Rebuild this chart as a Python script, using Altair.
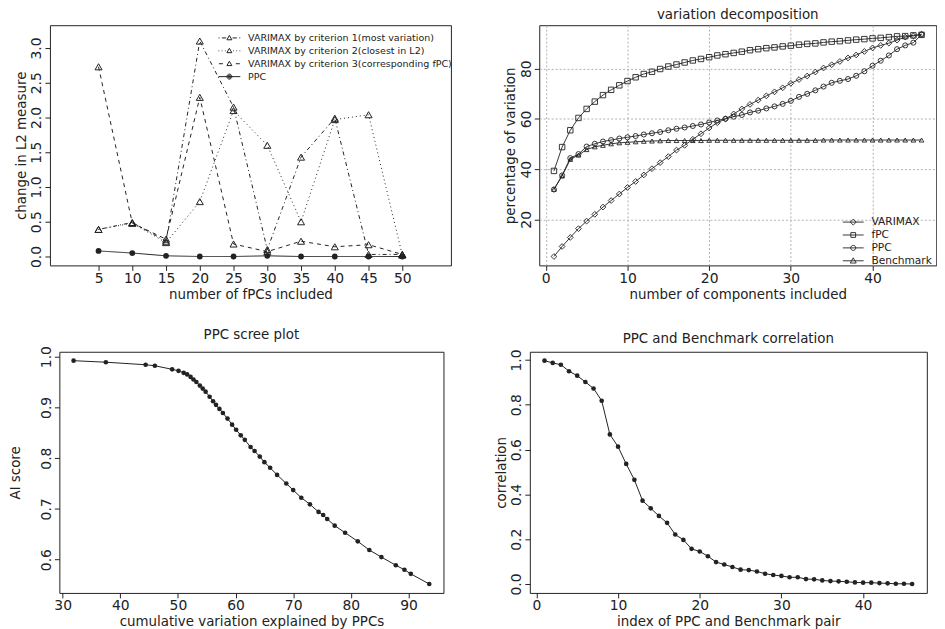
import altair as alt
import pandas as pd

FONT = "DejaVu Sans"
INK = "#222222"

# ---------------- panel 1: change in L2 measure ----------------
n_fpcs = [5, 10, 15, 20, 25, 30, 35, 40, 45, 50]
crit1 = [0.39, 0.49, 0.22, 3.10, 2.15, 0.10, 1.43, 1.99, 0.03, 0.03]
crit2 = [0.39, 0.48, 0.20, 0.79, 2.10, 1.60, 0.50, 1.97, 2.04, 0.02]
crit3 = [2.73, 0.48, 0.25, 2.29, 0.18, 0.07, 0.22, 0.14, 0.17, 0.03]
ppc_l2 = [0.08, 0.05, 0.01, 0.00, 0.00, 0.01, 0.00, 0.00, 0.00, 0.00]
p1_names = ["VARIMAX by criterion 1(most variation)",
            "VARIMAX by criterion 2(closest in L2)",
            "VARIMAX by criterion 3(corresponding fPC)",
            "PPC"]
p1_dash = [[1, 3, 4, 3], [1, 3], [4, 4], [1, 0]]
p1_legend_paths = [
    "M-4.4,0H-4.0M-3.0,0H-1.3M1.3,0H3.0M4.0,0H4.4M0,-1L1,0.75L-1,0.75Z",
    "M-4.4,0H-4.1M-3.1,0H-2.8M-1.8,0H-1.5M1.5,0H1.8M2.8,0H3.1M4.1,0H4.4M0,-1L1,0.75L-1,0.75Z",
    "M-4.2,0H-2.6M2.6,0H4.2M0,-1L1,0.75L-1,0.75Z",
    "M-4.4,0H4.4M1,0A1,1,0,1,1,-1,0A1,1,0,1,1,1,0Z"
    "M0.6,0A0.6,0.6,0,1,1,-0.6,0A0.6,0.6,0,1,1,0.6,0Z"
    "M0.25,0A0.25,0.25,0,1,1,-0.25,0A0.25,0.25,0,1,1,0.25,0Z",
]
p1_xlim = [0, 55]
p1_ylim = [0, 3.2]
p1_xticks = [5, 10, 15, 20, 25, 30, 35, 40, 45, 50]
p1_yticks = [0.0, 0.5, 1.0, 1.5, 2.0, 2.5, 3.0]

# ---------------- panel 2: variation decomposition ----------------
components = list(range(1, 47))
varimax = [5.2, 9.2, 12.8, 16.3, 19.3, 22.0, 24.9, 27.5, 30.1, 32.7,
           35.1, 37.7, 40.2, 42.6, 45.0, 47.6, 49.5, 51.9, 54.1, 56.4,
           58.5, 60.0, 62.0, 64.0, 65.8, 67.5, 69.2, 70.8, 72.4, 74.2,
           75.7, 77.1, 78.7, 80.3, 81.6, 82.9, 84.3, 85.5, 86.9, 88.3,
           89.3, 90.2, 91.4, 92.6, 93.1, 93.8]
fpc = [39.3, 48.8, 55.5, 60.4, 64.0, 66.9, 69.5, 71.6, 73.4, 75.1,
       76.6, 77.9, 78.8, 79.9, 80.9, 81.7, 82.5, 83.3, 83.9, 84.6,
       85.3, 85.8, 86.3, 86.8, 87.4, 87.8, 88.2, 88.5, 88.9, 89.2,
       89.6, 89.9, 90.1, 90.5, 90.8, 91.0, 91.3, 91.6, 91.8, 92.1,
       92.3, 92.6, 92.9, 93.0, 93.3, 93.5]
ppc_cum = [31.9, 37.5, 44.4, 46.0, 49.0, 50.1, 51.0, 51.6, 52.2, 52.7,
           53.2, 53.8, 54.3, 54.8, 55.5, 56.1, 56.6, 57.2, 57.8, 58.6,
           59.4, 60.1, 60.9, 61.6, 62.6, 63.3, 64.2, 65.0, 66.0, 67.2,
           68.8, 70.0, 71.4, 72.9, 74.4, 75.2, 75.9, 77.2, 79.0, 81.2,
           83.2, 85.3, 87.8, 89.3, 90.4, 93.6]
benchmark = [32.0, 37.3, 43.9, 45.6, 47.8, 48.9, 49.5, 50.1, 50.5, 50.7,
             50.9, 51.1, 51.2, 51.3, 51.4, 51.4, 51.4, 51.4, 51.4, 51.5,
             51.5, 51.5, 51.5, 51.5, 51.5, 51.5, 51.5, 51.5, 51.5, 51.5,
             51.5, 51.5, 51.5, 51.6, 51.6, 51.6, 51.6, 51.6, 51.6, 51.6,
             51.6, 51.6, 51.6, 51.6, 51.6, 51.6]
p2_names = ["VARIMAX", "fPC", "PPC", "Benchmark"]
p2_shapes = ["diamond", "square", "circle", "triangle-up"]
p2_sizes = [34, 22, 24, 34]
p2_legend_paths = [
    "M-3.5,0H3.5M0,-1L1,0L0,1L-1,0Z",
    "M-3.5,0H3.5M-0.8,-0.8H0.8V0.8H-0.8Z",
    "M-3.5,0H3.5M0.85,0A0.85,0.85,0,1,1,-0.85,0A0.85,0.85,0,1,1,0.85,0Z",
    "M-3.5,0H3.5M0,-1L1,0.75L-1,0.75Z",
]
p2_xticks = [0, 10, 20, 30, 40]
p2_yticks = [20, 40, 60, 80]

# ---------------- panel 3: PPC scree plot ----------------
ai_score = [0.992, 0.989, 0.984, 0.982, 0.975, 0.972, 0.968, 0.965, 0.960, 0.955,
            0.950, 0.943, 0.937, 0.931, 0.921, 0.912, 0.905, 0.897, 0.889, 0.878,
            0.866, 0.856, 0.845, 0.836, 0.822, 0.814, 0.803, 0.792, 0.781, 0.767,
            0.750, 0.737, 0.722, 0.709, 0.694, 0.688, 0.680, 0.667, 0.653, 0.636,
            0.619, 0.605, 0.589, 0.580, 0.572, 0.552]
p3_xticks = [30, 40, 50, 60, 70, 80, 90]
p3_yticks = [0.6, 0.7, 0.8, 0.9, 1.0]

# ---------------- panel 4: PPC and Benchmark correlation ----------------
correlation = [0.997, 0.987, 0.979, 0.950, 0.930, 0.902, 0.873, 0.818, 0.668, 0.613,
               0.536, 0.465, 0.372, 0.338, 0.304, 0.273, 0.221, 0.197, 0.157, 0.145,
               0.124, 0.098, 0.087, 0.076, 0.064, 0.062, 0.056, 0.046, 0.040, 0.036,
               0.030, 0.030, 0.022, 0.021, 0.016, 0.013, 0.012, 0.010, 0.007, 0.006,
               0.006, 0.004, 0.003, 0.001, 0.001, 0.000]
p4_xticks = [0, 10, 20, 30, 40]
p4_yticks = [0.0, 0.2, 0.4, 0.6, 0.8, 1.0]


def r_range(vals):
    lo, hi = min(vals), max(vals)
    pad = 0.04 * (hi - lo)
    return [lo - pad, hi + pad]


def xax(values, title, fmt=None, grid=False):
    kw = dict(values=values, title=title, grid=grid, labelAngle=0)
    if fmt:
        kw["format"] = fmt
    return alt.Axis(**kw)


def yax(values, title, fmt=None, grid=False, title_pad=2):
    kw = dict(values=values, title=title, grid=grid, labelAngle=270,
              labelAlign="center", labelBaseline="bottom", titlePadding=title_pad)
    if fmt:
        kw["format"] = fmt
    return alt.Axis(**kw)


H1, H2 = 242, 243
W1, W2, W3, W4 = 404, 400, 387, 400

# ----- panel 1 -----
rows = []
for name, vals in zip(p1_names, [crit1, crit2, crit3, ppc_l2]):
    for x, v in zip(n_fpcs, vals):
        rows.append({"n": x, "value": v, "series": name})
df1 = pd.DataFrame(rows)

x1 = alt.X("n:Q", scale=alt.Scale(domain=r_range(p1_xlim), nice=False, zero=False),
           axis=xax(p1_xticks, "number of fPCs included"))
y1 = alt.Y("value:Q", scale=alt.Scale(domain=r_range(p1_ylim), nice=False, zero=False),
           axis=yax(p1_yticks, "change in L2 measure", fmt=".1f"))

base1 = alt.Chart(df1)
l1 = base1.mark_line(color=INK, strokeWidth=1).encode(
    x=x1, y=y1,
    strokeDash=alt.StrokeDash("series:N", scale=alt.Scale(domain=p1_names, range=p1_dash), legend=None),
)
t1 = base1.mark_point(shape="triangle-up", filled=False, color=INK, size=50, opacity=1,
                      strokeWidth=1).encode(x=x1, y=y1).transform_filter(alt.datum.series != "PPC")
c1 = base1.mark_point(shape="circle", filled=True, color=INK, size=34, opacity=1).encode(
    x=x1, y=y1).transform_filter(alt.datum.series == "PPC")
leg1 = base1.mark_point(filled=False, color=INK, opacity=1, strokeWidth=1).encode(
    shape=alt.Shape("series:N", scale=alt.Scale(domain=p1_names, range=p1_legend_paths),
                    legend=alt.Legend(orient="none", legendX=176, legendY=8, title=None,
                                      symbolSize=25, labelFontSize=9.6, labelFont=FONT,
                                      labelColor=INK, labelOffset=14, rowPadding=2,
                                      symbolStrokeWidth=1, symbolStrokeColor=INK,
                                      padding=0, labelLimit=0)),
).transform_filter("false")
p1 = alt.layer(l1, t1, c1, leg1).resolve_scale(shape="independent").properties(
    width=W1, height=H1, title=" ")

# ----- panel 2 -----
rows = []
for name, vals in zip(p2_names, [varimax, fpc, ppc_cum, benchmark]):
    for x, v in zip(components, vals):
        rows.append({"k": x, "value": v, "series": name})
df2 = pd.DataFrame(rows)
x2 = alt.X("k:Q", scale=alt.Scale(domain=r_range(components), nice=False, zero=False),
           axis=xax(p2_xticks, "number of components included", grid=True))
y2 = alt.Y("value:Q", scale=alt.Scale(domain=r_range(varimax + fpc + ppc_cum + benchmark),
                                      nice=False, zero=False),
           axis=yax(p2_yticks, "percentage of variation", grid=True))
base2 = alt.Chart(df2)
l2 = base2.mark_line(color=INK, strokeWidth=0.9).encode(x=x2, y=y2, detail="series:N")
pt2 = base2.mark_point(filled=False, color=INK, opacity=1, strokeWidth=0.9).encode(
    x=x2, y=y2,
    shape=alt.Shape("series:N", scale=alt.Scale(domain=p2_names, range=p2_shapes), legend=None),
    size=alt.Size("series:N", scale=alt.Scale(domain=p2_names, range=p2_sizes), legend=None),
)
leg2 = base2.mark_point(filled=False, color=INK, opacity=1, strokeWidth=0.9).encode(
    shape=alt.Shape("series:N", scale=alt.Scale(domain=p2_names, range=p2_legend_paths),
                    legend=alt.Legend(orient="none", legendX=311, legendY=193, title=None,
                                      symbolSize=36, labelFontSize=10.7, labelFont=FONT,
                                      labelColor=INK, labelOffset=13, rowPadding=1,
                                      symbolStrokeWidth=0.9, symbolStrokeColor=INK,
                                      padding=0, labelLimit=0)),
).transform_filter("false")
p2 = alt.layer(l2, pt2, leg2).resolve_scale(shape="independent").properties(
    width=W2, height=H1, title="variation decomposition")

# ----- panel 3 -----
df3 = pd.DataFrame({"cum": ppc_cum, "ai": ai_score})
x3 = alt.X("cum:Q", scale=alt.Scale(domain=r_range(ppc_cum), nice=False, zero=False),
           axis=xax(p3_xticks, "cumulative variation explained by PPCs"))
y3 = alt.Y("ai:Q", scale=alt.Scale(domain=r_range(ai_score), nice=False, zero=False),
           axis=yax(p3_yticks, "AI score", fmt=".1f", title_pad=17))
base3 = alt.Chart(df3)
p3 = alt.layer(
    base3.mark_line(color=INK, strokeWidth=1).encode(x=x3, y=y3),
    base3.mark_point(shape="circle", filled=True, color=INK, size=22, opacity=1).encode(x=x3, y=y3),
).properties(width=W3, height=H2, title="PPC scree plot")

# ----- panel 4 -----
df4 = pd.DataFrame({"k": components, "corr": correlation})
x4 = alt.X("k:Q", scale=alt.Scale(domain=r_range(components), nice=False, zero=False),
           axis=xax(p4_xticks, "index of PPC and Benchmark pair"))
y4 = alt.Y("corr:Q", scale=alt.Scale(domain=r_range(correlation), nice=False, zero=False),
           axis=yax(p4_yticks, "correlation", fmt=".1f"))
base4 = alt.Chart(df4)
p4 = alt.layer(
    base4.mark_line(color=INK, strokeWidth=1).encode(x=x4, y=y4),
    base4.mark_point(shape="circle", filled=True, color=INK, size=22, opacity=1).encode(x=x4, y=y4),
).properties(width=W4, height=H2, title="PPC and Benchmark correlation")

row1 = alt.hconcat(p1, p2, spacing=49)
row2 = alt.hconcat(p3, p4, spacing=49)

chart = alt.vconcat(row1, row2, spacing=26, center=True).properties(
    padding={"top": -3, "left": 0, "right": 0, "bottom": 0}
).configure(
    font=FONT
).configure_view(
    stroke=INK, strokeWidth=1
).configure_axis(
    domain=False, grid=False, ticks=True, tickSize=5, tickColor=INK, tickWidth=1,
    labelFont=FONT, labelFontSize=14, labelColor=INK, labelPadding=1, labelFlush=False,
    labelOverlap=False,
    titleFont=FONT, titleFontSize=13.5, titleFontWeight="normal", titleColor=INK,
    titlePadding=2, gridColor="#b0b0b0", gridDash=[2, 2], gridWidth=1,
).configure_title(
    font=FONT, fontSize=13.5, fontWeight="normal", color=INK, offset=4, anchor="middle"
)

chart.save("out.html", embed_options={"renderer": "svg", "actions": False})
